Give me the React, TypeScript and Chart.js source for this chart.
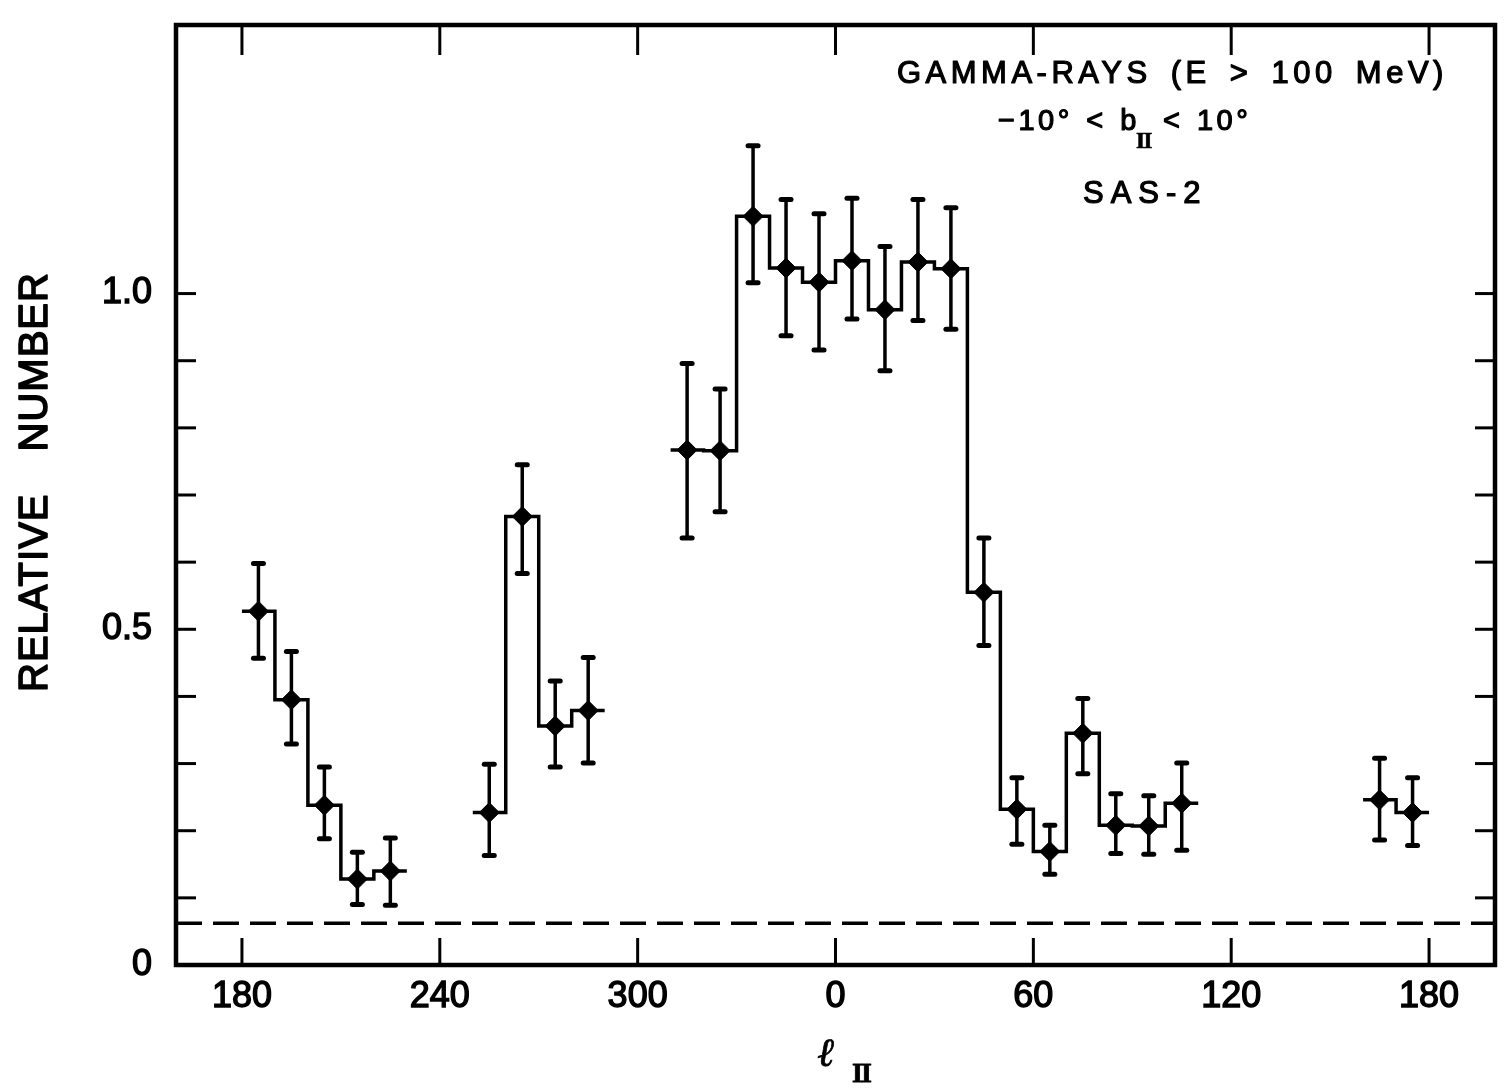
import React, { useEffect, useRef } from "react";
import { Chart, registerables } from "chart.js";

Chart.register(...registerables);

// ---------------- data ----------------
// Galactic longitude (l_II, degrees) of each 10° bin centre, in plotted order (180 -> 360/0 -> 180)
const binLongitude = [
  185, 195, 205, 215, 225,
  255, 265, 275, 285,
  315, 325, 335, 345, 355, 5, 15, 25, 35, 45, 55, 65, 75, 85, 95, 105,
  165, 175,
];
const relativeNumber = [
  0.527, 0.395, 0.238, 0.128, 0.14,
  0.227, 0.668, 0.356, 0.379,
  0.767, 0.766, 1.115, 1.038, 1.017, 1.049, 0.976, 1.047, 1.037, 0.555, 0.232, 0.169, 0.345, 0.208, 0.207, 0.241,
  0.246, 0.227,
];
const errorUp = [
  0.071, 0.072, 0.057, 0.04, 0.049,
  0.072, 0.077, 0.067, 0.079,
  0.129, 0.092, 0.105, 0.102, 0.102, 0.093, 0.094, 0.093, 0.091, 0.081, 0.047, 0.039, 0.052, 0.047, 0.045, 0.06,
  0.062, 0.052,
];
const errorDown = [
  0.07, 0.066, 0.05, 0.038, 0.051,
  0.064, 0.085, 0.061, 0.078,
  0.131, 0.091, 0.099, 0.101, 0.101, 0.087, 0.091, 0.087, 0.09, 0.079, 0.052, 0.034, 0.06, 0.042, 0.042, 0.07,
  0.06, 0.049,
];
const binWidth = 10;
const backgroundLevel = 0.062; // dashed line

// axis: degrees measured from l = 180 going across the plot
const xRange = [-20, 380];
const yRange = [0, 1.4];
const xTickOffsets = [0, 60, 120, 180, 240, 300, 360];
const xTickLabels = ["180", "240", "300", "0", "60", "120", "180"];
const yTickValues = [0, 0.5, 1.0];
const yTickLabels = ["0", "0.5", "1.0"];
const yMinorTickValues = [0.1, 0.2, 0.3, 0.4, 0.5, 0.6, 0.7, 0.8, 0.9, 1.0];

const titleLine1 = "GAMMA-RAYS (E > 100 MeV)";
const titleLine2a = "−10° < b";
const titleLine2sub = "II";
const titleLine2b = "< 10°";
const titleLine3 = "SAS-2";
const yTitle = "RELATIVE NUMBER";
const xTitle = "ℓ";
const xTitleSub = "II";

const SANS = '"Liberation Sans", Arial, sans-serif';
const SERIF = '"Liberation Serif", "DejaVu Serif", serif';

const toAxis = (l: number) => (l + 180) % 360;

function buildRuns() {
  const pts = binLongitude.map((l, i) => ({ x: toAxis(l), y: relativeNumber[i] }));
  const runs: { x: number; y: number }[][] = [];
  let cur: { x: number; y: number }[] = [];
  pts.forEach((p) => {
    if (cur.length && p.x - cur[cur.length - 1].x !== binWidth) {
      runs.push(cur);
      cur = [];
    }
    cur.push(p);
  });
  if (cur.length) runs.push(cur);
  return runs.map((r) => [
    { x: r[0].x - binWidth / 2, y: r[0].y },
    ...r,
    { x: r[r.length - 1].x + binWidth / 2, y: r[r.length - 1].y },
  ]);
}

function line(ctx: CanvasRenderingContext2D, x1: number, y1: number, x2: number, y2: number) {
  ctx.beginPath();
  ctx.moveTo(x1, y1);
  ctx.lineTo(x2, y2);
  ctx.stroke();
}

function text(
  ctx: any,
  s: string,
  x: number,
  y: number,
  font: string,
  align: CanvasTextAlign = "left",
  ls = 0,
  ws = 0,
  stroke = 1.2
) {
  ctx.font = font;
  ctx.textAlign = align;
  ctx.textBaseline = "alphabetic";
  ctx.letterSpacing = `${ls}px`;
  ctx.wordSpacing = `${ws}px`;
  ctx.fillText(s, x, y);
  if (stroke > 0) {
    ctx.lineWidth = stroke;
    ctx.lineJoin = "round";
    ctx.strokeText(s, x, y);
  }
  ctx.letterSpacing = "0px";
  ctx.wordSpacing = "0px";
}

const errorBarPlugin = {
  id: "errorBars",
  afterDatasetsDraw(chart: any) {
    const { ctx, scales } = chart;
    const x = scales.x;
    const y = scales.y;
    ctx.save();
    ctx.strokeStyle = "#000";
    binLongitude.forEach((l, i) => {
      const px = x.getPixelForValue(toAxis(l));
      const top = y.getPixelForValue(relativeNumber[i] + errorUp[i]);
      const bot = y.getPixelForValue(relativeNumber[i] - errorDown[i]);
      ctx.lineWidth = 3.5;
      ctx.lineCap = "butt";
      line(ctx, px, top, px, bot);
      ctx.lineWidth = 5;
      ctx.lineCap = "round";
      line(ctx, px - 5, top, px + 5, top);
      line(ctx, px - 5, bot, px + 5, bot);
    });
    ctx.restore();
  },
};

const framePlugin = {
  id: "frameTicks",
  afterDraw(chart: any) {
    const { ctx, chartArea: a, scales } = chart;
    const x = scales.x;
    const y = scales.y;
    ctx.save();
    ctx.strokeStyle = "#000";
    ctx.lineCap = "butt";
    ctx.lineWidth = 3;
    xTickOffsets.forEach((v) => {
      const px = x.getPixelForValue(v);
      line(ctx, px, a.bottom, px, a.bottom - 27);
      line(ctx, px, a.top, px, a.top + 30);
    });
    yMinorTickValues.forEach((v) => {
      const py = y.getPixelForValue(v);
      line(ctx, a.left, py, a.left + 20, py);
      line(ctx, a.right, py, a.right - 20, py);
    });
    ctx.lineWidth = 4.5;
    ctx.strokeRect(a.left, a.top, a.right - a.left, a.bottom - a.top);

    // annotation text
    ctx.fillStyle = "#000";
    text(ctx, titleLine1, 897, 83, `31px ${SANS}`, "left", 4.5, 6);
    text(ctx, titleLine2a, 998, 130, `29px ${SANS}`, "left", 3.5, 2);
    text(ctx, titleLine2sub, 1136, 148, `bold 23px ${SERIF}`, "left", -1.5, 0, 0.6);
    text(ctx, titleLine2b, 1163, 130, `29px ${SANS}`, "left", 3.5, 2);
    text(ctx, titleLine3, 1083, 203, `31px ${SANS}`, "left", 7);

    // x-axis title
    text(ctx, xTitle, 818, 1066, `italic bold 40px "DejaVu Serif", serif`, "left", 0, 0, 0.8);
    text(ctx, xTitleSub, 852, 1082, `bold 28px ${SERIF}`, "left", -2, 0, 0.8);

    // y-axis title (rotated)
    ctx.save();
    ctx.translate(47, 482);
    ctx.rotate(-Math.PI / 2);
    text(ctx, yTitle, 0, 0, `40px ${SANS}`, "center", 1, 30, 1.6);
    ctx.restore();

    ctx.restore();
  },
};

export default function App() {
  const ref = useRef<HTMLCanvasElement | null>(null);

  useEffect(() => {
    document.body.style.margin = "0";
    const canvas = ref.current;
    if (!canvas) return;

    const runs = buildRuns();
    const stepSets = runs.map((r) => ({
      type: "line" as const,
      data: r,
      stepped: "middle" as const,
      borderColor: "#000",
      borderWidth: 3.5,
      pointRadius: 0,
      fill: false,
      order: 2,
    }));

    const zeroPad = (s: any) => {
      s.paddingTop = 0;
      s.paddingBottom = 0;
      s.paddingLeft = 0;
      s.paddingRight = 0;
    };

    const chart = new Chart(canvas, {
      type: "scatter",
      data: {
        datasets: [
          {
            type: "line",
            data: [
              { x: xRange[0], y: backgroundLevel },
              { x: xRange[1], y: backgroundLevel },
            ],
            borderColor: "#000",
            borderWidth: 3.5,
            borderDash: [26, 11],
            pointRadius: 0,
            fill: false,
            order: 3,
          } as any,
          ...(stepSets as any[]),
          {
            type: "scatter",
            data: binLongitude.map((l, i) => ({ x: toAxis(l), y: relativeNumber[i] })),
            pointStyle: "rectRot",
            pointRadius: 10,
            backgroundColor: "#000",
            borderColor: "#000",
            borderWidth: 1,
            order: 1,
          } as any,
        ],
      },
      options: {
        animation: false,
        responsive: false,
        maintainAspectRatio: false,
        layout: { padding: { top: 25, right: 7, left: 0, bottom: 0 } },
        plugins: {
          legend: { display: false },
          tooltip: { enabled: false },
        },
        scales: {
          x: {
            type: "linear",
            min: xRange[0],
            max: xRange[1],
            grid: { display: false, drawTicks: false },
            border: { display: false },
            afterBuildTicks: (s: any) => {
              s.ticks = xTickOffsets.map((v) => ({ value: v }));
            },
            afterFit: (s: any) => {
              s.height = 127;
              zeroPad(s);
            },
            ticks: {
              autoSkip: false,
              maxRotation: 0,
              padding: 10,
              color: "#000",
              textStrokeColor: "#000",
              textStrokeWidth: 1.4,
              font: { family: SANS, size: 36 },
              callback: (_v: any, i: number) => xTickLabels[i],
            },
          },
          y: {
            type: "linear",
            min: yRange[0],
            max: yRange[1],
            grid: { display: false, drawTicks: false },
            border: { display: false },
            afterBuildTicks: (s: any) => {
              s.ticks = yTickValues.map((v) => ({ value: v }));
            },
            afterFit: (s: any) => {
              s.width = 176;
              zeroPad(s);
            },
            ticks: {
              autoSkip: false,
              padding: 24,
              color: "#000",
              textStrokeColor: "#000",
              textStrokeWidth: 1.4,
              font: { family: SANS, size: 36 },
              callback: (_v: any, i: number) => yTickLabels[i],
            },
          },
        },
      },
      plugins: [errorBarPlugin, framePlugin],
    } as any);

    return () => chart.destroy();
  }, []);

  return (
    <div style={{ width: 1506, height: 1092, background: "#fff", overflow: "hidden" }}>
      <canvas ref={ref} width={1506} height={1092} style={{ display: "block" }} />
    </div>
  );
}
